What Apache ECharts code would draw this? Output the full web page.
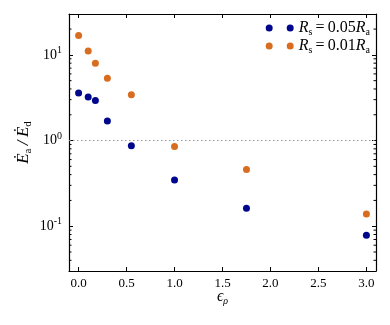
<!DOCTYPE html>
<html>
<head>
<meta charset="utf-8">
<script src="https://cdn.jsdelivr.net/npm/echarts@6/dist/echarts.min.js"></script>
<style>
  html, body { margin: 0; padding: 0; background: #fff; }
  #chart { width: 390px; height: 325px; }
</style>
</head>
<body>
<div id="chart"></div>
<script>
// data
const epsRho = [0, 0.1, 0.175, 0.3, 0.55, 1.0, 1.75, 3.0];
const ratio005 = [3.58, 3.22, 2.93, 1.69, 0.867, 0.346, 0.162, 0.0786];
const ratio001 = [16.8, 11.1, 7.98, 5.35, 3.43, 0.85, 0.46, 0.139];
const xTicks = [0, 0.5, 1.0, 1.5, 2.0, 2.5, 3.0];
const yMinorTicks = [0.04, 0.05, 0.06, 0.07, 0.08, 0.09,
  0.2, 0.3, 0.4, 0.5, 0.6, 0.7, 0.8, 0.9,
  2, 3, 4, 5, 6, 7, 8, 9, 20];

const serif = 'Liberation Serif';
const blue = '#00078c';
const orange = '#d86d1f';

const chart = echarts.init(document.getElementById('chart'));

const tickStyle = { lineStyle: { color: '#000', width: 1 } };
const legendIcon = 'path://M0,3.5a3.5,3.5 0 1,0 7,0a3.5,3.5 0 1,0 -7,0zM21,3.5a3.5,3.5 0 1,0 7,0a3.5,3.5 0 1,0 -7,0z';

const legendRich = {
  i: { fontFamily: serif, fontStyle: 'italic', fontSize: 16, color: '#000', lineHeight: 16 },
  t: { fontFamily: serif, fontSize: 16, color: '#000', lineHeight: 16 },
  sub: { fontFamily: serif, fontSize: 10, color: '#000', lineHeight: 16, padding: [8, 0, 0, 0] }
};

function minorTickItem(side) {
  return function (params, api) {
    const cs = params.coordSys;
    const p = api.coord([0, api.value(0)]);
    const x0 = side === 'left' ? cs.x : cs.x + cs.width;
    const dx = side === 'left' ? 2.5 : -2.5;
    return {
      type: 'line',
      shape: { x1: x0, y1: p[1], x2: x0 + dx, y2: p[1] },
      style: { stroke: '#000', lineWidth: 1 }
    };
  };
}

const option = {
  animation: false,
  grid: { left: 69, top: 14, right: 14, bottom: 54, outerBoundsMode: 'none' },
  legend: {
    top: 19,
    right: 20,
    padding: 0,
    orient: 'vertical',
    itemWidth: 28,
    itemHeight: 7,
    itemGap: 0,
    icon: legendIcon,
    data: ['r005', 'r001'],
    formatter: function (name) {
      return name === 'r005'
        ? '{i|R}{sub|s}{t|\u2009=\u20090.05}{i|R}{sub|a}'
        : '{i|R}{sub|s}{t|\u2009=\u20090.01}{i|R}{sub|a}';
    },
    textStyle: { rich: legendRich }
  },
  xAxis: [{
    type: 'value',
    min: -0.1,
    max: 3.1,
    name: '{e|\u03f5}{s|\u03c1}',
    nameLocation: 'middle',
    nameGap: 16,
    nameMoveOverlap: false,
    nameTextStyle: {
      rich: {
        e: { fontFamily: serif, fontStyle: 'italic', fontSize: 16, color: '#000' },
        s: { fontFamily: serif, fontStyle: 'italic', fontSize: 10, color: '#000', padding: [9, 0, 0, 0] }
      }
    },
    axisLine: { onZero: false, lineStyle: { color: '#000', width: 1.2 } },
    axisTick: { inside: true, length: 4, customValues: xTicks, ...tickStyle },
    axisLabel: {
      customValues: xTicks,
      fontFamily: serif, fontSize: 13, color: '#000', margin: 6,
      formatter: v => v.toFixed(1)
    },
    splitLine: { show: false }
  }, {
    type: 'value',
    position: 'top',
    min: -0.1,
    max: 3.1,
    axisLine: { onZero: false, lineStyle: { color: '#000', width: 1.2 } },
    axisTick: { inside: true, length: 4, customValues: xTicks, ...tickStyle },
    axisLabel: { show: false },
    splitLine: { show: false }
  }],
  yAxis: [{
    type: 'log',
    min: 0.03,
    max: 30,
    logBase: 10,
    name: '{d|\u0116}{s|a}{d|\u2009/\u2009\u0116}{s|d}',
    nameLocation: 'middle',
    nameRotate: 90,
    nameGap: 35,
    nameMoveOverlap: false,
    nameTextStyle: {
      rich: {
        d: { fontFamily: serif, fontStyle: 'italic', fontSize: 17, color: '#000' },
        s: { fontFamily: serif, fontSize: 11, color: '#000', padding: [9, 0, 0, 0] }
      }
    },
    axisLine: { onZero: false, lineStyle: { color: '#000', width: 1.2 } },
    axisTick: { inside: true, length: 4, ...tickStyle },
    axisLabel: {
      showMinLabel: false,
      showMaxLabel: false,
      margin: 7,
      formatter: function (v) {
        const e = Math.round(Math.log10(v));
        if (Math.abs(Math.log10(v) - e) > 1e-6) return '';
        return '{b|10}{p|' + (e < 0 ? '-' : '') + Math.abs(e) + '}';
      },
      rich: {
        b: { fontFamily: serif, fontSize: 14, color: '#000' },
        p: { fontFamily: serif, fontSize: 10, color: '#000', padding: [0, 0, 9, 0] }
      }
    },
    splitLine: { show: false }
  }, {
    type: 'log',
    min: 0.03,
    max: 30,
    logBase: 10,
    position: 'right',
    axisLine: { onZero: false, lineStyle: { color: '#000', width: 1.2 } },
    axisTick: { inside: true, length: 4, ...tickStyle },
    axisLabel: { show: false },
    splitLine: { show: false }
  }],
  series: [{
    name: 'r005',
    type: 'scatter',
    symbolSize: 7,
    itemStyle: { color: blue, opacity: 1 },
    data: epsRho.map((x, i) => [x, ratio005[i]]),
    z: 3,
    markLine: {
      silent: true,
      symbol: 'none',
      label: { show: false },
      lineStyle: { color: '#999', type: [1.5, 2.5], width: 1 },
      data: [{ yAxis: 1 }]
    }
  }, {
    name: 'r001',
    type: 'scatter',
    symbolSize: 7,
    itemStyle: { color: orange, opacity: 1 },
    data: epsRho.map((x, i) => [x, ratio001[i]]),
    z: 3
  }, {
    type: 'custom',
    renderItem: minorTickItem('left'),
    data: yMinorTicks.map(v => [v]),
    encode: { y: 0 },
    silent: true,
    z: 4
  }, {
    type: 'custom',
    renderItem: minorTickItem('right'),
    data: yMinorTicks.map(v => [v]),
    encode: { y: 0 },
    silent: true,
    z: 4
  }]
};

chart.setOption(option);
</script>
</body>
</html>
